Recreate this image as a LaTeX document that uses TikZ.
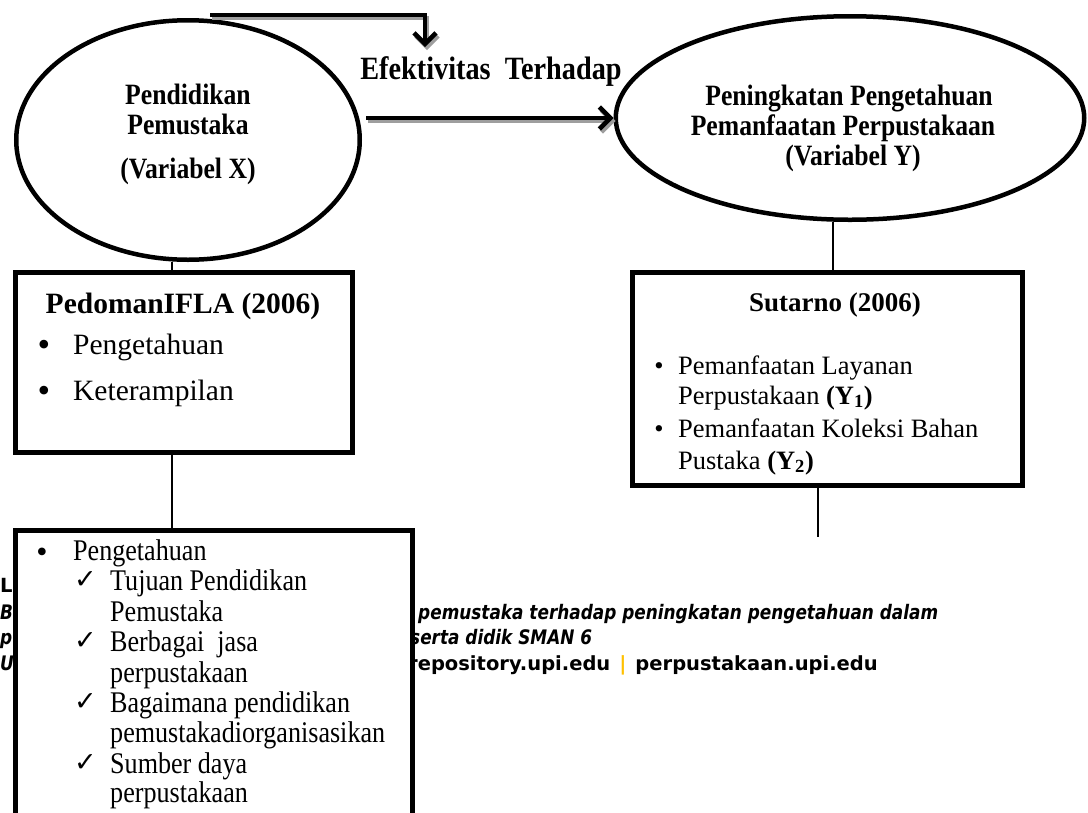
\documentclass[tikz,border=0pt]{standalone}
\usepackage{fontspec}
\setmainfont{Liberation Serif}
\newfontfamily\condfont{Liberation Serif}[FakeStretch=0.87]
\newfontfamily\footfont{DejaVu Sans}[FakeStretch=0.845]
\newfontfamily\footupfont{DejaVu Sans}[FakeStretch=1.0]
\newfontfamily\symfont{DejaVu Sans}
\usetikzlibrary{arrows.meta,shapes.geometric}
\definecolor{footgold}{RGB}{255,192,0}
\begin{document}
\begin{tikzpicture}[x=1pt,y=-1pt,
  ovalnode/.style={draw, ellipse, line width=4.5pt, inner sep=0pt},
  boxnode/.style={draw, rectangle, line width=5pt, inner sep=0pt, fill=white},
  conn/.style={line width=1.5pt},
  bigarrow/.style={line width=4.5pt, -{Straight Barb[length=11pt,width=22pt]}},
  shadowarrow/.style={bigarrow, draw=black!38},
  ovaltext/.style={font=\condfont\bfseries\fontsize{29.5}{32}\selectfont, inner sep=0pt, anchor=base},
  titletext/.style={font=\bfseries\fontsize{29.5}{30}\selectfont, inner sep=0pt, anchor=base},
  itemL/.style={font=\fontsize{29.5}{32}\selectfont, inner sep=0pt, anchor=base west},
  itemR/.style={font=\fontsize{26.5}{30}\selectfont, inner sep=0pt, anchor=base west},
  itemD/.style={font=\condfont\fontsize{30}{32}\selectfont, inner sep=0pt, anchor=base west},
  bul/.style={inner sep=0pt, anchor=base},
  chk/.style={font=\symfont\fontsize{27}{28}\selectfont, inner sep=0pt, anchor=base west},
  foot/.style={font=\footupfont\bfseries\fontsize{19.5}{22}\selectfont, inner sep=0pt, anchor=base west},
  footit/.style={font=\footfont\bfseries\itshape\fontsize{20}{22}\selectfont, inner sep=0pt, anchor=base west}
]
\useasboundingbox (0,0) rectangle (1088,812);

% ellipses
\node[ovalnode, minimum width=343.5, minimum height=239.5] (ex) at (188,140) {};
\node[ovalnode, minimum width=468.5, minimum height=203.5] (ey) at (850,118) {};

\node[ovaltext] (exa) at (188,104) {Pendidikan};
\node[ovaltext] (exb) at (188,134) {Pemustaka};
\node[ovaltext] (exc) at (188,178) {(Variabel X)};

\node[ovaltext] (eya) at (849,105) {Peningkatan Pengetahuan};
\node[ovaltext] (eyb) at (843,135) {Pemanfaatan Perpustakaan};
\node[ovaltext] (eyc) at (853,165) {(Variabel Y)};

\node[ovaltext, font=\condfont\bfseries\fontsize{32.5}{34}\selectfont] (eft) at (491,79) {Efektivitas\ \ Terhadap};

% arrows
\coordinate (ta) at (210,15);
\coordinate (tb) at (425,47);
\coordinate (ha) at (366,118);
\draw[shadowarrow, transform canvas={shift={(2,3)}}] (ta) -| (tb);
\draw[bigarrow] (ta) -| (tb);
\draw[shadowarrow, transform canvas={shift={(2,3)}}] (ha) -- (ey.west);
\draw[bigarrow] (ha) -- (ey.west);

% footer text (partly covered by the lower box)
\node[foot] (fl) at (0,592) {L};
\node[footit] (fb) at (0,619) {B};
\node[footit] (fp) at (0,644) {p};
\node[footit] (fu) at (0,670) {U};
\node[footit] (fb2) at (418,619) {pemustaka terhadap peningkatan pengetahuan dalam};
\node[footit] (fp2) at (410,644) {serta didik SMAN 6};
\node[foot] (fu2) at (408,670) {repository.upi.edu\hspace{9pt}\textcolor{footgold}{|}\hspace{9pt}perpustakaan.upi.edu};

% boxes
\node[boxnode, minimum width=337, minimum height=180] (bl) at (184,362.5) {};
\node[boxnode, minimum width=390, minimum height=213] (br) at (827.5,379) {};
\node[boxnode, minimum width=397, minimum height=320] (bd) at (214,690.5) {};

% connectors
\coordinate (lx) at (172,0);
\coordinate (rx) at (833,0);
\coordinate (rx2) at (818,0);
\coordinate (rend) at (818,537);
\draw[conn] (lx |- ex.south) -- (lx |- bl.north);
\draw[conn] (lx |- bl.south) -- (lx |- bd.north);
\draw[conn] (rx |- ey.south) -- (rx |- br.north);
\draw[conn] (rx2 |- br.south) -- (rend);

% left box text
\node[titletext] (tl) at (183,313) {PedomanIFLA (2006)};
\node[bul, font=\fontsize{36}{36}\selectfont] (bl1) at (44,356) {\textbullet};
\node[itemL] (il1) at (73,354) {Pengetahuan};
\node[bul, font=\fontsize{36}{36}\selectfont] (bl2) at (44,402) {\textbullet};
\node[itemL] (il2) at (73,400) {Keterampilan};

% right box text
\node[titletext, font=\bfseries\fontsize{27}{30}\selectfont] (tr) at (835,311) {Sutarno (2006)};
\node[bul, font=\fontsize{26.5}{30}\selectfont] (br1) at (659,374) {\textbullet};
\node[itemR] (ir1) at (678,374) {Pemanfaatan Layanan};
\node[itemR] (ir2) at (678,404) {Perpustakaan \textbf{(Y\textsubscript{1})}};
\node[bul, font=\fontsize{26.5}{30}\selectfont] (br2) at (659,437) {\textbullet};
\node[itemR] (ir3) at (678,437) {Pemanfaatan Koleksi Bahan};
\node[itemR] (ir4) at (678,469) {Pustaka \textbf{(Y\textsubscript{2})}};

% lower box text
\node[bul, font=\fontsize{32}{32}\selectfont] (bd0) at (42,562) {\textbullet};
\node[itemD] (id0) at (73,560) {Pengetahuan};
\node[chk] (c1) at (74,588) {✓};
\node[itemD] (id1) at (110,590) {Tujuan Pendidikan};
\node[itemD] (id2) at (110,621) {Pemustaka};
\node[chk] (c2) at (74,649) {✓};
\node[itemD] (id3) at (110,651) {Berbagai\ \ jasa};
\node[itemD] (id4) at (110,682) {perpustakaan};
\node[chk] (c3) at (74,710) {✓};
\node[itemD] (id5) at (110,712) {Bagaimana pendidikan};
\node[itemD] (id6) at (110,742) {pemustakadiorganisasikan};
\node[chk] (c4) at (74,771) {✓};
\node[itemD] (id7) at (110,773) {Sumber daya};
\node[itemD] (id8) at (110,802) {perpustakaan};
\end{tikzpicture}
\end{document}
